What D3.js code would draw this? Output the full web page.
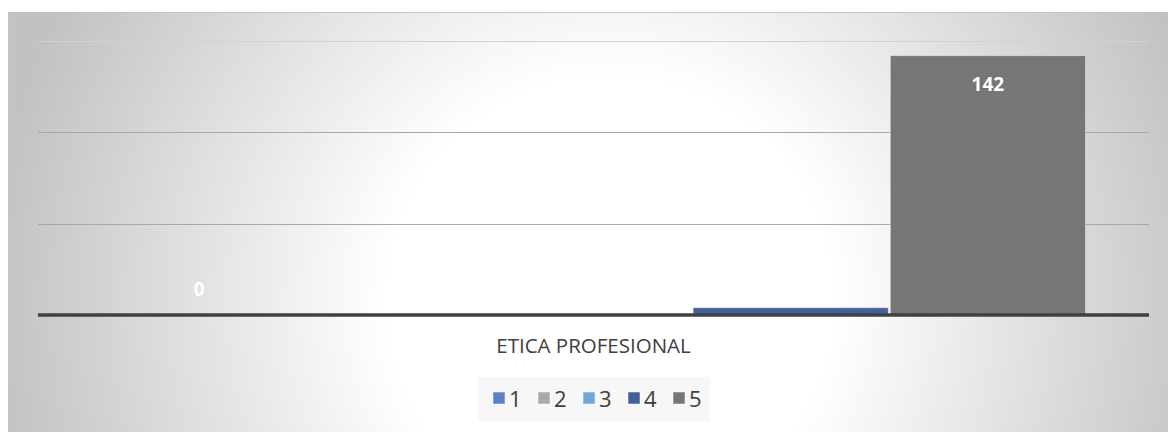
<!DOCTYPE html>
<html lang="es">
<head>
<meta charset="UTF-8">
<title>ETICA PROFESIONAL</title>
<script src="https://d3js.org/d3.v7.min.js"></script>
<style>
  html, body { margin: 0; padding: 0; background: #fff; }
  svg text { font-family: "Open Sans", "Noto Sans", sans-serif; }
</style>
</head>
<body>
<svg class="chart"></svg>
<script>
// data
const categories = ["ETICA PROFESIONAL"];
const seriesNames = ["1", "2", "3", "4", "5"];
const seriesValues = [0, 0, 0, 4, 142];
const yTicks = [0, 50, 100, 150];
const seriesColors = ["#5b80c9", "#a9a9a9", "#6fa7dc", "#44609a", "#767676"];

const W = 1168, H = 432;
const svg = d3.select('.chart').attr('width', W).attr('height', H);

// background with radial gradient
const defs = svg.append('defs');
const grad = defs.append('radialGradient')
    .attr('id', 'bg')
    .attr('gradientUnits', 'userSpaceOnUse')
    .attr('cx', 610).attr('cy', 300).attr('r', 620);
grad.append('stop').attr('offset', '0%').attr('stop-color', '#ffffff');
grad.append('stop').attr('offset', '36%').attr('stop-color', '#ffffff');
grad.append('stop').attr('offset', '100%').attr('stop-color', '#c2c2c2');

svg.append('rect')
    .attr('x', 8.5).attr('y', 12.5)
    .attr('width', W).attr('height', H)
    .attr('fill', 'url(#bg)')
    .attr('stroke', '#c4c4c4');

// scales
const plot = { left: 38, right: 1149, top: 41, bottom: 315 };
const x0 = d3.scaleBand().domain(categories)
    .range([plot.left, plot.right]).paddingOuter(0.0645).paddingInner(0);
const x1 = d3.scaleBand().domain(seriesNames)
    .range([0, x0.bandwidth()]).paddingInner(0.01).paddingOuter(0);
const y = d3.scaleLinear().domain([0, 150]).range([plot.bottom, plot.top]);

// gridlines
svg.append('g').selectAll('line')
    .data(yTicks.filter(d => d > 0))
    .enter().append('line')
    .attr('x1', plot.left).attr('x2', plot.right)
    .attr('y1', d => Math.round(y(d)) + 0.5)
    .attr('y2', d => Math.round(y(d)) + 0.5)
    .attr('stroke', d => d === 150 ? '#d2d2d2' : '#a8a8a8')
    .attr('stroke-width', 1);

// bars
const cat = categories[0];
const bars = svg.append('g');
bars.selectAll('rect')
    .data(seriesNames)
    .enter().append('rect')
    .attr('x', d => x0(cat) + x1(d))
    .attr('y', (d, i) => y(seriesValues[i]))
    .attr('width', x1.bandwidth())
    .attr('height', (d, i) => y(0) - y(seriesValues[i]))
    .attr('fill', (d, i) => seriesColors[i])
    .attr('stroke', 'rgba(255,255,255,0.45)')
    .attr('stroke-width', 1);

// axis line
svg.append('line')
    .attr('x1', plot.left).attr('x2', plot.right)
    .attr('y1', y(0)).attr('y2', y(0))
    .attr('stroke', '#404040')
    .attr('stroke-width', 3.5);

// data labels (white, inside end)
bars.selectAll('text')
    .data(seriesNames)
    .enter().append('text')
    .attr('x', d => x0(cat) + x1(d) + x1.bandwidth() / 2)
    .attr('y', (d, i) => Math.min(y(seriesValues[i]) + 35, y(0) - 19))
    .attr('text-anchor', 'middle')
    .attr('fill', '#ffffff')
    .attr('font-weight', 'bold')
    .attr('font-size', 19)
    .text((d, i) => seriesValues[i]);

// category label
svg.append('text')
    .attr('x', x0(cat) + x0.bandwidth() / 2)
    .attr('y', 353)
    .attr('text-anchor', 'middle')
    .attr('fill', '#404040')
    .attr('font-size', 20.5)
    .text(cat);

// legend
const legend = svg.append('g');
legend.append('rect')
    .attr('x', 478).attr('y', 377)
    .attr('width', 232).attr('height', 45)
    .attr('fill', '#f7f7f7');
const items = legend.selectAll('g.item')
    .data(seriesNames)
    .enter().append('g')
    .attr('class', 'item')
    .attr('transform', (d, i) => `translate(${493 + i * 45},392)`);
items.append('rect')
    .attr('width', 12).attr('height', 12)
    .attr('fill', (d, i) => seriesColors[i])
    .attr('stroke', 'rgba(255,255,255,0.5)');
items.append('text')
    .attr('x', 16).attr('y', 15)
    .attr('fill', '#404040')
    .attr('font-size', 22)
    .text(d => d);
</script>
</body>
</html>
